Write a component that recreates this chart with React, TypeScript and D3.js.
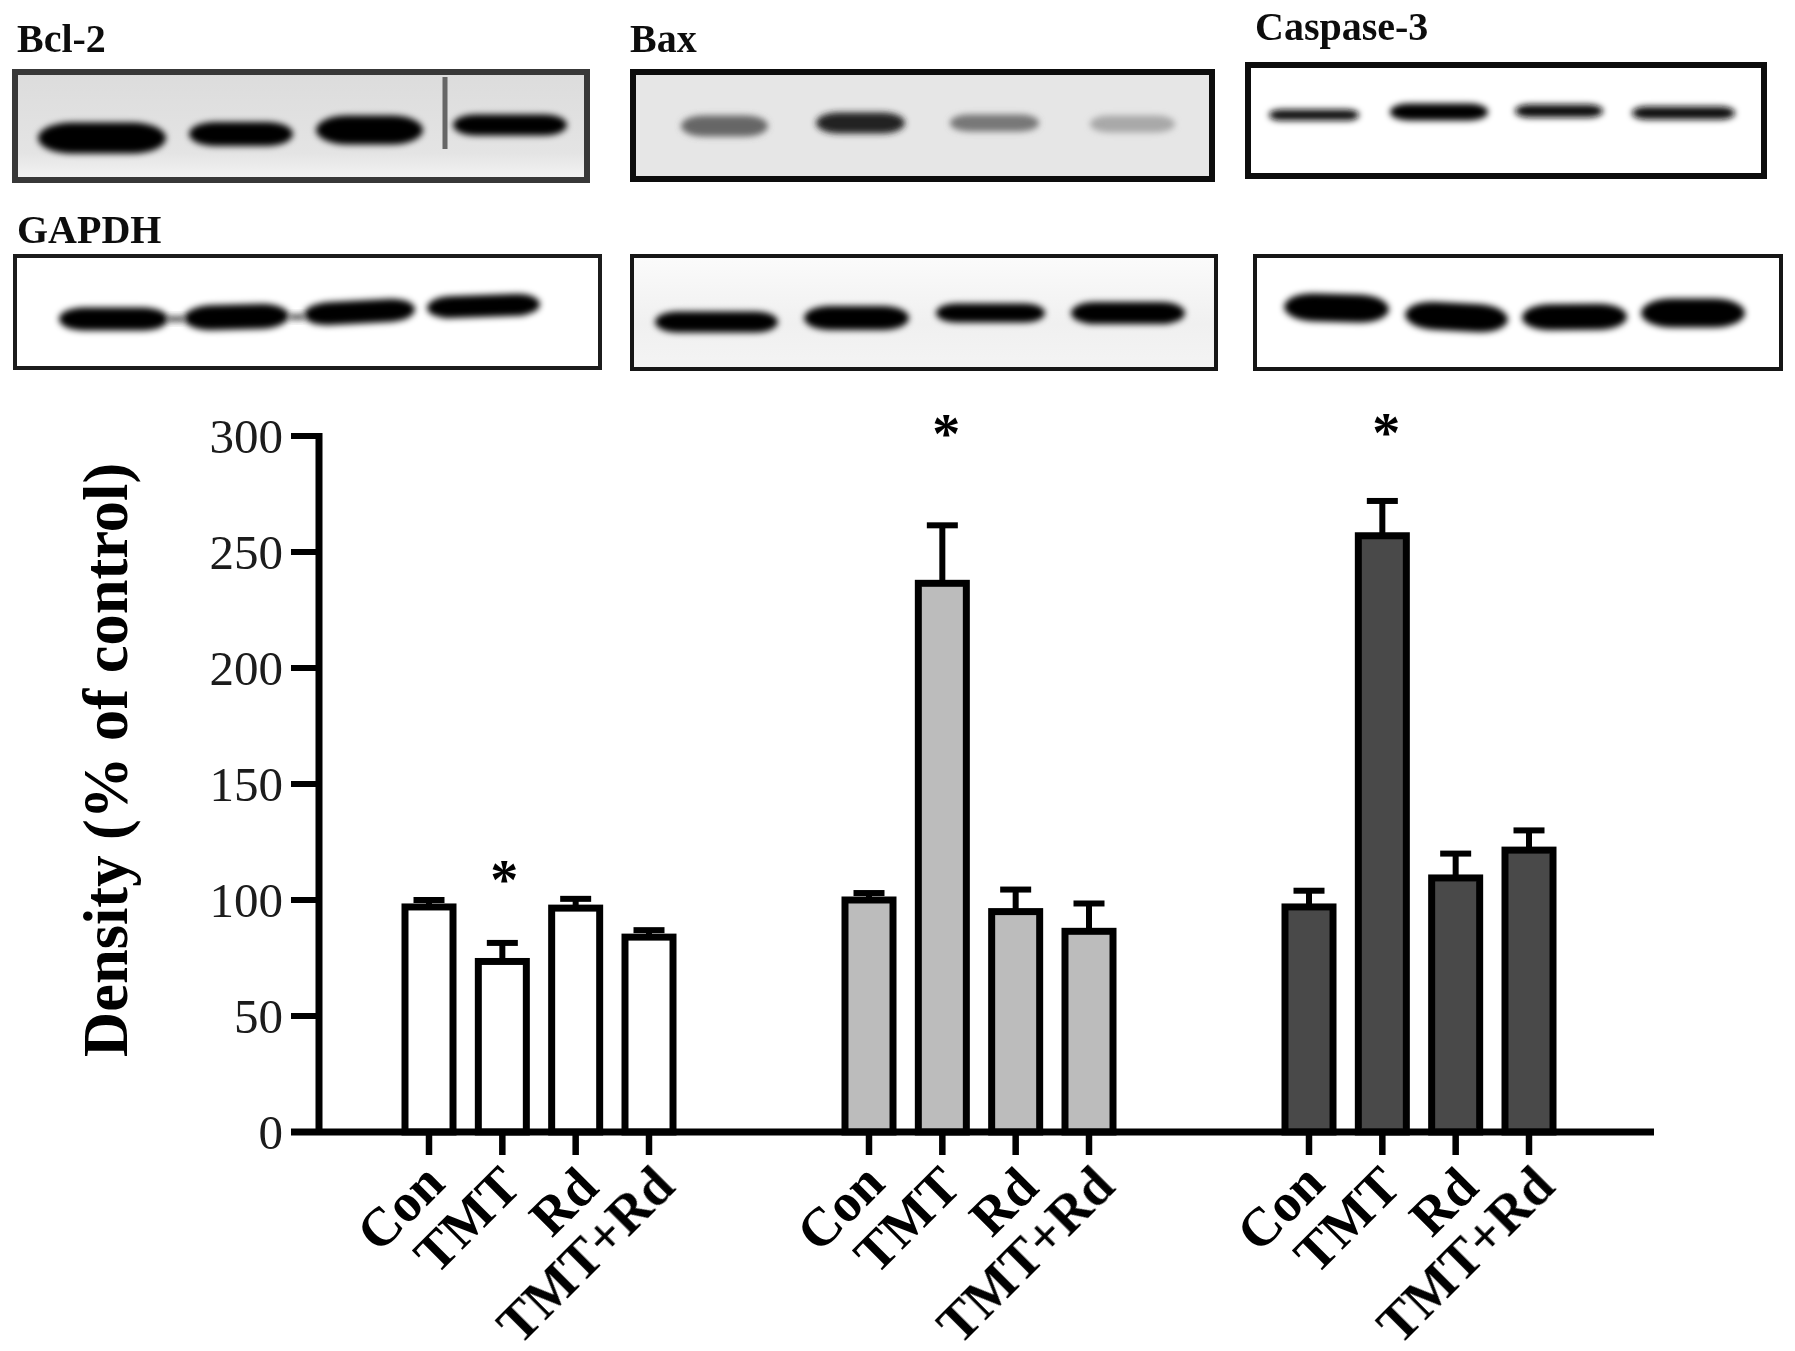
import React from "react";
import * as d3 from "d3";

const categories = ["Con", "TMT", "Rd", "TMT+Rd"];
const groupSlots = [0, 6, 12];
const bcl2Means = [97, 73.5, 96.5, 84];
const bcl2Upper = [100, 81.5, 100.5, 87];
const baxMeans = [100, 236.5, 95, 86.5];
const baxUpper = [103, 261.5, 104.5, 98.5];
const casp3Means = [97, 257, 109.5, 121.5];
const casp3Upper = [104, 272, 120, 130];
const significant = [false, true, false, false];
const yTicks = [0, 50, 100, 150, 200, 250, 300];

const seriesList = [
  { means: bcl2Means, upper: bcl2Upper, fill: "#ffffff", starY: 899 },
  { means: baxMeans, upper: baxUpper, fill: "#bcbcbc", starY: 453 },
  { means: casp3Means, upper: casp3Upper, fill: "#484848", starY: 452 },
];

// Blot picture panels: frame and bands (image decoration, not data)
type Band = [number, number, number, number, string, number?];
const panels: { x0: number; y0: number; x1: number; y1: number; sw: number; stroke: string; bg: string; bands: Band[] }[] = [
  { x0: 15, y0: 72, x1: 587, y1: 180, sw: 6, stroke: "#383838", bg: "url(#bgBcl)", bands: [
    [38, 166, 138, 31, "#000"], [189, 293, 134, 24, "#000"], [316, 423, 130, 29, "#000"], [453, 567, 125, 21, "#000"],
  ] },
  { x0: 15, y0: 256, x1: 600, y1: 368, sw: 4, stroke: "#1c1c1c", bg: "#fff", bands: [
    [59, 168, 319, 23, "#000"], [184, 289, 317, 25, "#000", -1.5], [304, 415, 312, 23, "#000", -3], [427, 540, 306, 22, "#000", -2],
    [166, 186, 319, 5, "#333"], [288, 306, 317, 5, "#333"],
  ] },
  { x0: 633, y0: 72, x1: 1212, y1: 179, sw: 6, stroke: "#0c0c0c", bg: "#e6e6e6", bands: [
    [681, 768, 126, 21, "#666666"], [816, 905, 123, 21, "#222222"], [950, 1039, 123, 17, "#777777"], [1090, 1175, 124, 17, "#a8a8a8"],
  ] },
  { x0: 632, y0: 256, x1: 1216, y1: 369, sw: 4, stroke: "#141414", bg: "url(#bgBax)", bands: [
    [655, 778, 322, 21, "#000"], [804, 909, 318, 24, "#000"], [936, 1045, 313, 19, "#000"], [1071, 1185, 313, 22, "#000"],
  ] },
  { x0: 1248, y0: 65, x1: 1764, y1: 176, sw: 6, stroke: "#0c0c0c", bg: "#fff", bands: [
    [1269, 1359, 115, 11, "#111"], [1390, 1488, 112, 17, "#000"], [1515, 1603, 111, 13, "#111"], [1632, 1735, 113, 13, "#111"],
  ] },
  { x0: 1255, y0: 256, x1: 1781, y1: 369, sw: 4, stroke: "#141414", bg: "#fff", bands: [
    [1284, 1389, 308, 28, "#000", 1.5], [1405, 1508, 317, 28, "#000", 3], [1522, 1627, 317, 26, "#000", -0.5], [1641, 1745, 313, 29, "#000"],
  ] },
];

const blotLabels: [string, number, number][] = [
  ["Bcl-2", 17, 52],
  ["GAPDH", 17, 243],
  ["Bax", 630, 52],
  ["Caspase-3", 1255, 40],
];

const labelDx = [18, 21, 25, 28];
const labelY = [1186, 1189, 1190, 1189];

const SERIF = "'Liberation Serif', 'Times New Roman', serif";
const INK = "#060606";

export default function App() {
  const y = d3.scaleLinear().domain([0, 300]).range([1132, 436]);
  const x = d3.scaleLinear().domain([0, 15]).range([429, 1529]);
  const barW = 48;
  const capW = 31;
  const sw = 7;
  return (
    <svg width={1795} height={1351} viewBox="0 0 1795 1351" style={{ position: "absolute", left: 0, top: 0, display: "block", background: "#fff" }}>
      <defs>
        <filter id="bandBlur" x="-20%" y="-100%" width="140%" height="300%"><feGaussianBlur stdDeviation="3.2" /></filter>
        <filter id="soft" x="-2%" y="-2%" width="104%" height="104%"><feGaussianBlur stdDeviation="0.55" /></filter>
        <linearGradient id="bgBcl" x1="0" y1="0" x2="0" y2="1">
          <stop offset="0" stopColor="#dcdcdc" /><stop offset="0.75" stopColor="#e4e4e4" /><stop offset="1" stopColor="#f4f4f4" />
        </linearGradient>
        <linearGradient id="bgBax" x1="0" y1="0" x2="0" y2="1">
          <stop offset="0" stopColor="#fbfbfb" /><stop offset="0.6" stopColor="#f0f0f0" /><stop offset="1" stopColor="#f4f4f4" />
        </linearGradient>
      </defs>

      {panels.map((p, i) => (
        <g key={i}>
          <rect x={p.x0} y={p.y0} width={p.x1 - p.x0} height={p.y1 - p.y0} fill={p.bg} />
          {p.bands.map(([a, b, cy, h, c, rot], j) => (
            <rect key={j} x={a} y={cy - h / 2} width={b - a} height={h} rx={Math.min(h * 1.1, (b - a) / 2)} ry={h / 2} fill={c} filter="url(#bandBlur)"
              transform={rot ? `rotate(${rot} ${(a + b) / 2} ${cy})` : undefined} />
          ))}
          {i === 0 && <rect x={442.5} y={77} width={5} height={72} fill="#666" filter="url(#soft)" />}
          <rect x={p.x0} y={p.y0} width={p.x1 - p.x0} height={p.y1 - p.y0} fill="none" stroke={p.stroke} strokeWidth={p.sw} filter="url(#soft)" />
        </g>
      ))}

      <g filter="url(#soft)">
        {blotLabels.map(([t, lx, ly]) => (
          <text key={t} x={lx} y={ly} fontFamily={SERIF} fontWeight="bold" fontSize={40} fill="#111">{t}</text>
        ))}

        {seriesList.map((s, gi) =>
          categories.map((c, i) => {
            const cx = x(groupSlots[gi] + i);
            const top = y(s.means[i]);
            const cap = y(s.upper[i]);
            return (
              <g key={`${gi}-${c}`}>
                <line x1={cx} x2={cx} y1={top} y2={cap} stroke={INK} strokeWidth={6} />
                <line x1={cx - capW / 2} x2={cx + capW / 2} y1={cap} y2={cap} stroke={INK} strokeWidth={6} />
                <rect x={cx - barW / 2} y={top} width={barW} height={y(0) - top} fill={s.fill} stroke={INK} strokeWidth={sw} />
                <line x1={cx} x2={cx} y1={y(0)} y2={1155} stroke={INK} strokeWidth={6.5} />
                <text transform={`translate(${cx + labelDx[i]},${labelY[i]}) rotate(-45)`} textAnchor="end" fontFamily={SERIF} fontWeight="bold" fontSize={54} fill={INK}>{c}</text>
                {significant[i] && (
                  <text x={cx + (gi === 0 ? 2 : 4)} y={s.starY} textAnchor="middle" fontFamily={SERIF} fontWeight="bold" fontSize={56} fill={INK}>*</text>
                )}
              </g>
            );
          })
        )}

        <line x1={319} x2={319} y1={y(300) - 3} y2={y(0)} stroke={INK} strokeWidth={7} />
        <line x1={291} x2={1654} y1={y(0)} y2={y(0)} stroke={INK} strokeWidth={7} />
        {yTicks.map((t) => (
          <g key={t}>
            <line x1={291} x2={319} y1={y(t)} y2={y(t)} stroke={INK} strokeWidth={6} />
            <text x={283} y={y(t) + 17} textAnchor="end" fontFamily={SERIF} fontSize={49} fill="#1a1a1a">{t}</text>
          </g>
        ))}
        <text transform="translate(127,1057) rotate(-90)" fontFamily={SERIF} fontWeight="bold" fontSize={62.5} fill={INK}>Density (% of control)</text>
      </g>
    </svg>
  );
}
